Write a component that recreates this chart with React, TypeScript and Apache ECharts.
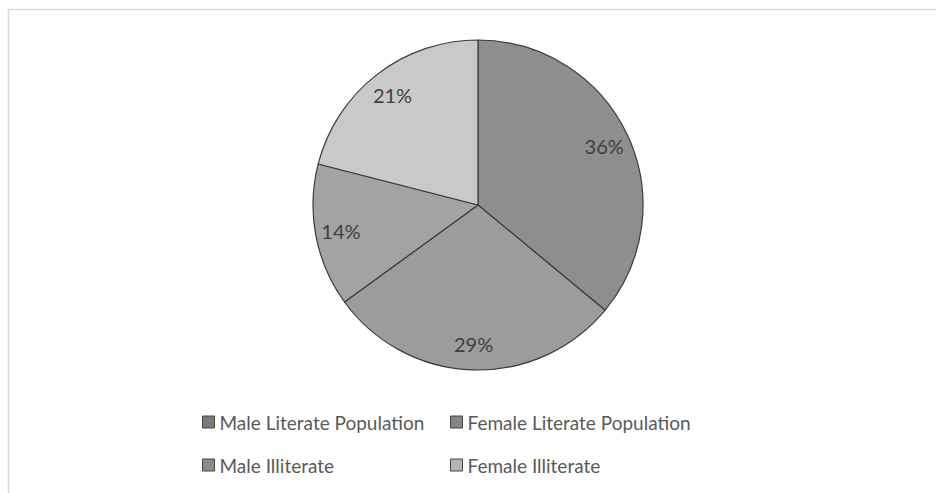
import React, { useEffect, useRef } from "react";
import * as echarts from "echarts";

const categories = [
  "Male Literate Population",
  "Female Literate Population",
  "Male Illiterate",
  "Female Illiterate",
];
const shares = [36, 29, 14, 21];
const sliceColors = ["#8e8e8e", "#9c9c9c", "#a3a3a3", "#c9c9c9"];
const iconColors = ["#7a7a7a", "#858585", "#8c8c8c", "#b5b5b5"];

export default function App() {
  const ref = useRef<HTMLDivElement>(null);
  useEffect(() => {
    if (!ref.current) return;
    const chart = echarts.init(ref.current, undefined, { renderer: "svg" });
    const font = "Lato, 'Open Sans', sans-serif";
    const data = categories.map((name, i) => ({
      name,
      value: shares[i],
      itemStyle: { color: sliceColors[i] },
    }));
    const legendText = { fontFamily: font, fontSize: 19, color: "#595959", lineHeight: 22 };
    const legendData = (idx: number[]) =>
      idx.map((i) => ({
        name: categories[i],
        itemStyle: { color: iconColors[i], borderColor: "#444", borderWidth: 1 },
      }));
    chart.setOption({
      animation: false,
      backgroundColor: "#ffffff",
      graphic: [
        {
          type: "rect",
          shape: { x: 8.5, y: 9.5, width: 960, height: 520 },
          style: { fill: "none", stroke: "#d9d9d9", lineWidth: 1.5 },
          silent: true,
          z: -10,
        },
      ],
      legend: [
        {
          data: legendData([0, 2]),
          orient: "vertical",
          left: 197,
          top: 406,
          itemWidth: 12,
          itemHeight: 12,
          itemGap: 21,
          icon: "rect",
          textStyle: legendText,
          selectedMode: false,
        },
        {
          data: legendData([1, 3]),
          orient: "vertical",
          left: 445,
          top: 406,
          itemWidth: 12,
          itemHeight: 12,
          itemGap: 21,
          icon: "rect",
          textStyle: legendText,
          selectedMode: false,
        },
      ],
      series: [
        {
          type: "pie",
          center: [478, 205],
          radius: [0, 165],
          startAngle: 90,
          clockwise: true,
          data,
          label: { show: false },
          labelLine: { show: false },
          itemStyle: { borderColor: "#3c3c3c", borderWidth: 1.2 },
          emphasis: { disabled: true },
          silent: true,
        },
        {
          type: "pie",
          center: [478, 205],
          radius: [108, 165],
          startAngle: 90,
          clockwise: true,
          data: categories.map((name, i) => ({ name, value: shares[i] })),
          itemStyle: { color: "transparent", borderWidth: 0 },
          label: {
            show: true,
            position: "inside",
            formatter: "{d}%",
            fontFamily: font,
            fontSize: 20,
            color: "#404040",
          },
          labelLine: { show: false },
          emphasis: { disabled: true },
          silent: true,
          z: 3,
        },
      ],
    });
    return () => chart.dispose();
  }, []);
  return (
    <div
      ref={ref}
      style={{ position: "fixed", left: 0, top: 0, width: 936, height: 493 }}
    />
  );
}
